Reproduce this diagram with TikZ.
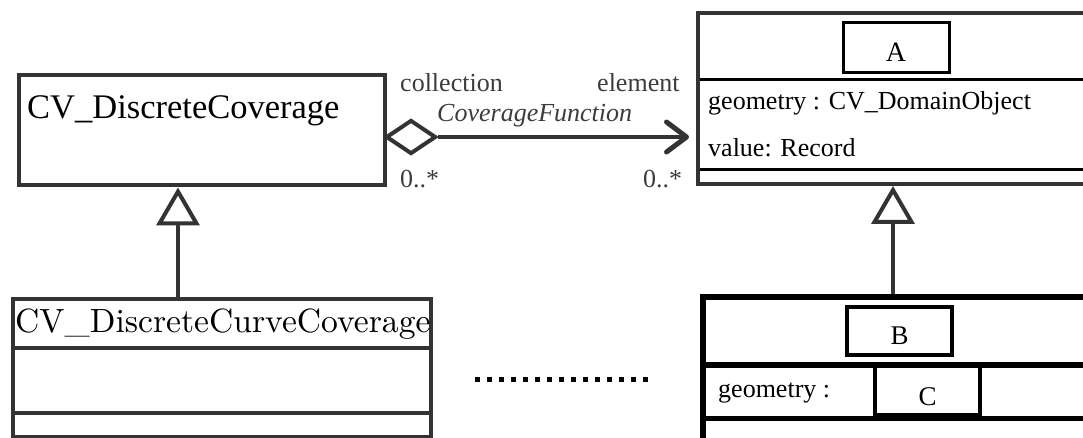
\documentclass[tikz,border=0pt]{standalone}
\usepackage{fontspec}
\setmainfont{Liberation Serif}
\newfontfamily\lmfont{lmroman10-regular.otf}
\usetikzlibrary{arrows.meta,shapes.geometric}
\definecolor{dk}{HTML}{333333}
\definecolor{lbl}{HTML}{3C3C3C}
\tikzset{
  umlbox/.style={draw=dk, line width=4pt, rectangle, inner sep=0pt},
  blkbox/.style={draw=black, rectangle, inner sep=0pt},
  txt/.style={anchor=base west, inner sep=0pt, font=\fontsize{26}{30}\selectfont},
  lab/.style={anchor=base west, inner sep=0pt, text=lbl, font=\fontsize{26}{30}\selectfont},
  gen/.style={draw=dk, line width=4pt, -{Triangle[open,length=38pt,width=43pt,line width=4pt]}},
  assoc/.style={draw=dk, line width=4.5pt, -{Straight Barb[length=20pt,width=30pt,line width=5pt,round]}},
  sepline/.style={draw=black, line width=3pt},
}
\begin{document}
\begin{tikzpicture}[x=1pt,y=-1pt]
\useasboundingbox (0,0) rectangle (1083,438);
\clip (0,0) rectangle (1083,438);
% left upper class
\node[umlbox, minimum width=366pt, minimum height=110.5pt] (dc) at (202,130.25) {};
\node[anchor=base west, inner sep=0pt, font=\fontsize{34.5}{40}\selectfont] (dct) at (27,119) {CV\_DiscreteCoverage};
% aggregation diamond
\node[draw=dk, line width=4pt, diamond, minimum width=50pt, minimum height=34pt, inner sep=0pt] (agg) at (411,137) {};
% right upper class A
\node[umlbox, minimum width=402pt, minimum height=171pt] (Abox) at (899,98.5) {};
\node[blkbox, line width=3pt, minimum width=106pt, minimum height=50pt] (Ain) at (896,48) {};
\node[anchor=base, inner sep=0pt, font=\fontsize{28}{32}\selectfont] (At) at (896,62) {A};
\draw[sepline] (700,80) -- (1090,80);
\draw[sepline] (700,170) -- (1090,170);
\node[txt] (g1) at (708,110) {geometry : CV\_DomainObject};
\node[txt] (v1) at (708,157) {value: Record};
% association
\draw[assoc, shorten >=7pt] (agg.east) -- (Abox.west |- agg.east);
\node[lab] (lc) at (400,92) {collection};
\node[lab] (le) at (597,92) {element};
\node[lab, font=\fontsize{26}{30}\selectfont\itshape] (lf) at (437,122) {CoverageFunction};
\node[lab] (lm1) at (400,188) {0..*};
\node[lab] (lm2) at (643,188) {0..*};
% left lower class
\node[umlbox, minimum width=418pt, minimum height=137.5pt] (dcc) at (221.5,367.75) {};
\node[anchor=base west, inner sep=0pt, font=\lmfont\fontsize{33.6}{38}\selectfont] (dcct) at (15,332) {CV\_DiscreteCurveCoverage};
\draw[draw=dk, line width=4pt] (12.5,348) -- (430.5,348);
\draw[draw=dk, line width=4pt] (12.5,412.5) -- (430.5,412.5);
% generalization left
\coordinate (gx1) at (178,0);
\draw[gen] (dcc.north -| gx1) -- (dc.south -| gx1);
% right lower class B
\node[blkbox, line width=5.5pt, minimum width=397pt, minimum height=200pt] (Bbox) at (901.5,397) {};
\node[blkbox, line width=3.5pt, minimum width=105pt, minimum height=48pt] (Bin) at (899.5,331) {};
\node[anchor=base, inner sep=0pt, font=\fontsize{27}{31}\selectfont] (Bt) at (899.5,344) {B};
\draw[draw=black, line width=5.5pt] (703,365) -- (1090,365);
\draw[draw=black, line width=5pt] (703,418) -- (1090,418);
\node[blkbox, line width=4pt, minimum width=105pt, minimum height=50pt] (Cin) at (927.5,390) {};
\node[anchor=base, inner sep=0pt, font=\fontsize{27}{31}\selectfont] (Ct) at (927.5,405) {C};
\node[txt] (g2) at (718,397) {geometry :};
% generalization right
\coordinate (gx2) at (893,0);
\draw[gen] (Bbox.north -| gx2) -- (Abox.south -| gx2);
% ellipsis dots
\draw[draw=black, line width=5pt, dash pattern=on 5pt off 7pt] (475,379) -- (650,379);
\end{tikzpicture}
\end{document}
